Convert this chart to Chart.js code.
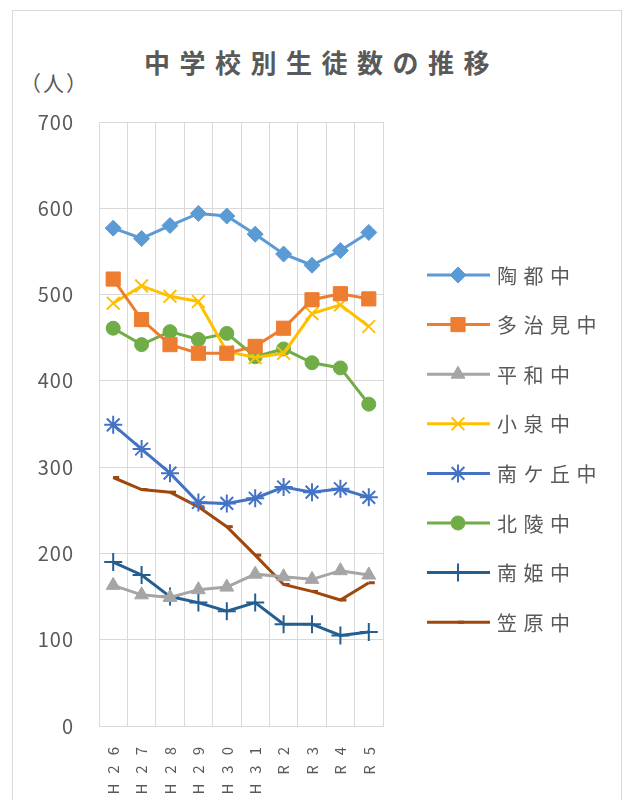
<!DOCTYPE html>
<html>
<head>
<meta charset="utf-8">
<script src="https://cdn.jsdelivr.net/npm/chart.js@4.4.0/dist/chart.umd.min.js"></script>
<style>
  body { margin: 0; background: #fff; }
  #frame { position: absolute; left: 12px; top: 10px; width: 608px; height: 800px; border: 1px solid #d9d9d9; }
  #title { position: absolute; left: 144px; top: 48px; font: bold 26px "Noto Sans CJK JP"; line-height: 28px; letter-spacing: 9.5px; color: #595959; white-space: nowrap; }
  #unit { position: absolute; left: 20px; top: 70px; font: 21px "Noto Sans CJK JP"; line-height: 24px; letter-spacing: 2px; color: #595959; }
  canvas { position: absolute; left: 0; top: 0; }
</style>
</head>
<body>
<div id="frame"></div>
<div id="title">中学校別生徒数の推移</div>
<div id="unit">（人）</div>
<canvas id="chart" width="633" height="800"></canvas>
<script>
// 年度
const labels = ["H26", "H27", "H28", "H29", "H30", "H31", "R2", "R3", "R4", "R5"];

// 生徒数
const toto = [577, 565, 580, 594, 591, 570, 547, 534, 551, 572];
const tajimi = [518, 471, 442, 432, 432, 440, 461, 494, 501, 495];
const heiwa = [163, 152, 149, 158, 161, 176, 173, 170, 180, 175];
const koizumi = [490, 510, 498, 492, 434, 427, 432, 478, 488, 463];
const minamigaoka = [349, 321, 293, 259, 258, 264, 277, 271, 275, 265];
const hokuryo = [461, 442, 457, 448, 455, 428, 437, 421, 415, 373];
const nanki = [190, 175, 150, 143, 133, 143, 118, 118, 105, 109];
const kasahara = [288, 274, 271, 254, 231, 198, 164, 156, 146, 166];

const yTicks = [0, 100, 200, 300, 400, 500, 600, 700];

const grey = "#595959";

function series(label, data, color, style, radius, pbw) {
  return {
    label: label,
    data: data,
    borderColor: color,
    backgroundColor: color,
    borderWidth: 3,
    tension: 0,
    pointStyle: style,
    pointRadius: radius,
    pointBackgroundColor: color,
    pointBorderColor: color,
    pointBorderWidth: pbw
  };
}

// 凡例（線＋マーカー）
const legendPlugin = {
  id: "lineLegend",
  afterDraw(c) {
    const ctx = c.ctx;
    c.data.datasets.forEach((ds, i) => {
      const y = 275 + i * 49.6;
      ctx.save();
      ctx.strokeStyle = ds.borderColor;
      ctx.lineWidth = 3;
      ctx.beginPath();
      ctx.moveTo(427, y);
      ctx.lineTo(490, y);
      ctx.stroke();
      ctx.fillStyle = ds.pointBackgroundColor;
      ctx.strokeStyle = ds.pointBorderColor;
      ctx.lineWidth = ds.pointBorderWidth;
      Chart.helpers.drawPoint(ctx, {
        pointStyle: ds.pointStyle,
        radius: ds.pointRadius,
        rotation: 0,
        borderWidth: ds.pointBorderWidth
      }, 458, y);
      ctx.fillStyle = grey;
      ctx.font = '20px "Noto Sans CJK JP"';
      ctx.letterSpacing = "6.5px";
      ctx.textAlign = "left";
      ctx.textBaseline = "middle";
      ctx.fillText(ds.label, 497, y + 1);
      ctx.restore();
    });
  }
};

// x軸ラベル（縦向き・字間広め）
const xLabelPlugin = {
  id: "xLabels",
  beforeDraw(c) {
    c.ctx.letterSpacing = "1px";
  },
  afterDraw(c) {
    const ctx = c.ctx;
    const xs = c.scales.x;
    labels.forEach((lab, i) => {
      const x = xs.getPixelForTick(i);
      ctx.save();
      ctx.translate(x, 737);
      ctx.rotate(-Math.PI / 2);
      ctx.font = '15px "Noto Sans CJK JP"';
      ctx.letterSpacing = "10px";
      ctx.fillStyle = grey;
      ctx.textAlign = "right";
      ctx.textBaseline = "middle";
      ctx.fillText(lab, 0, 0);
      ctx.restore();
    });
    ctx.letterSpacing = "0px";
  }
};

const ctx = document.getElementById("chart").getContext("2d");

new Chart(ctx, {
  type: "line",
  data: {
    labels: labels,
    datasets: [
      series("陶都中", toto, "#5B9BD5", "rectRot", 8, 1),
      series("多治見中", tajimi, "#ED7D31", "rect", 10, 1),
      series("平和中", heiwa, "#A5A5A5", "triangle", 8, 1),
      series("小泉中", koizumi, "#FFC000", "crossRot", 9, 2),
      series("南ケ丘中", minamigaoka, "#4472C4", "star", 9, 2),
      series("北陵中", hokuryo, "#70AD47", "circle", 7, 1),
      series("南姫中", nanki, "#255E91", "cross", 9, 2),
      series("笠原中", kasahara, "#9E480E", "dash", 6, 3)
    ]
  },
  options: {
    responsive: false,
    devicePixelRatio: 1,
    animation: false,
    layout: { padding: { left: 0, right: 250, top: 122, bottom: 0 } },
    plugins: {
      legend: { display: false },
      title: { display: false },
      tooltip: { enabled: false }
    },
    scales: {
      x: {
        offset: true,
        grid: { offset: true, color: "#d9d9d9", drawTicks: false },
        border: { color: "#d9d9d9" },
        ticks: { display: false },
        afterFit(s) { s.height = 74; }
      },
      y: {
        min: 0,
        max: 700,
        afterBuildTicks(s) { s.ticks = yTicks.map(v => ({ value: v })); },
        grid: { color: "#d9d9d9", drawTicks: false },
        border: { display: false },
        ticks: {
          color: grey,
          padding: 25,
          font: { family: "Noto Sans CJK JP", size: 20 }
        },
        afterFit(s) { s.width = 99; }
      }
    }
  },
  plugins: [legendPlugin, xLabelPlugin]
});
</script>
</body>
</html>
